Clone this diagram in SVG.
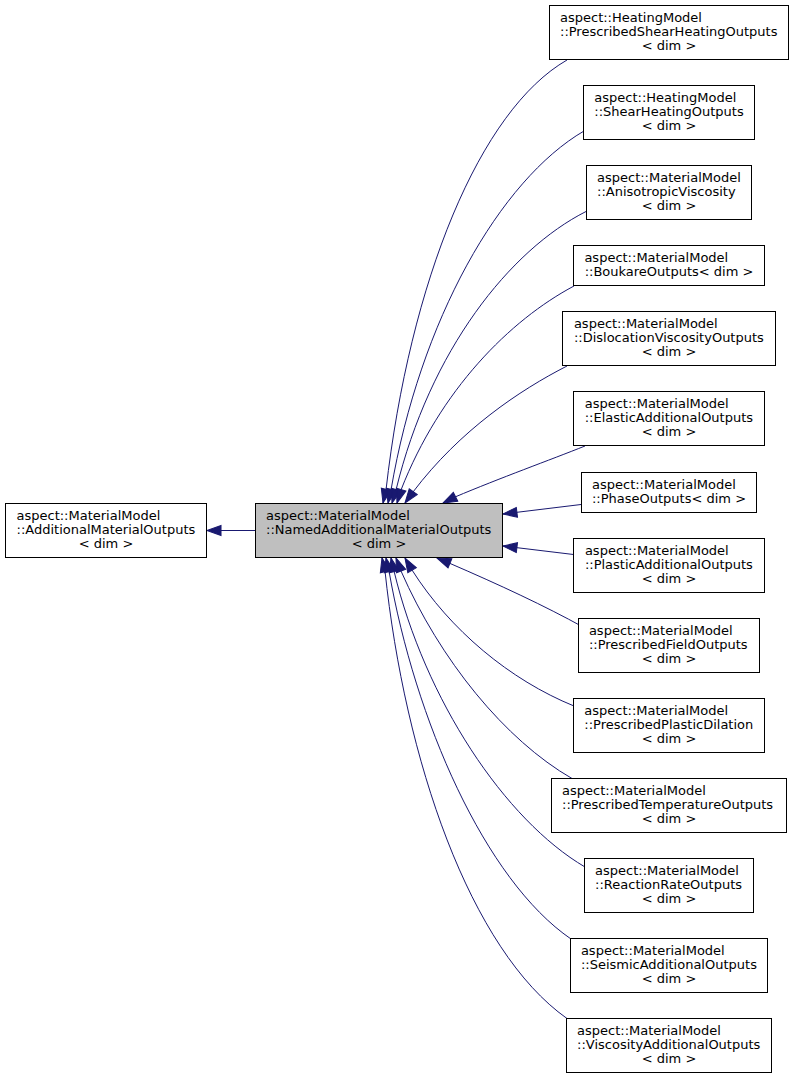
<svg xmlns="http://www.w3.org/2000/svg" width="793" height="1080" viewBox="0 0 793 1080">
<style>
.node rect{fill:#ffffff;stroke:#000000;stroke-width:1}
.main rect{fill:#bfbfbf}
text{font-family:"DejaVu Sans",sans-serif;font-size:13px;fill:#000000}
.c{text-anchor:middle}
.edge{fill:none;stroke:#191970;stroke-width:1;marker-end:url(#ah)}
</style>
<defs>
<marker id="ah" markerUnits="userSpaceOnUse" markerWidth="14" markerHeight="10" viewBox="0 0 13.5 9.5" refX="13.5" refY="4.75" orient="auto" overflow="visible">
<path d="M0,0 L13.5,4.75 L0,9.5 Z" fill="#191970" stroke="#191970" stroke-width="1"/>
</marker>
</defs>
<g id="connectors">
<path class="edge" d="M255,530.5 L207,530.5"/>
<path class="edge" d="M567,60 C480,110 410,280 386,490 L383,503"/>
<path class="edge" d="M584,131 C500,180 420,320 391,490 L388,503"/>
<path class="edge" d="M586,211.5 C510,250 430,350 396,490 L392,503"/>
<path class="edge" d="M574,286 C510,320 440,390 401,490 L397,503"/>
<path class="edge" d="M567,366 C520,390 460,430 413,492 L405,503"/>
<path class="edge" d="M585,446 C550,460 500,478 455,497 L443,503"/>
<path class="edge" d="M581,504.5 L503,514"/>
<path class="edge" d="M573.5,554.5 L503,546"/>
<path class="edge" d="M583,627 C545,606 500,585 449,563 L437,558"/>
<path class="edge" d="M574,706 C510,680 450,630 412,570 L405,558"/>
<path class="edge" d="M572,778.5 C505,740 440,660 401,571 L396,558"/>
<path class="edge" d="M585,867 C505,820 425,700 394,571 L391,558"/>
<path class="edge" d="M571,939 C485,880 415,720 389,571 L386,558"/>
<path class="edge" d="M567,1018.5 C470,950 405,760 385,571 L382,558"/>
</g>
<g id="node_additional" class="node">
<rect x="5.5" y="503.5" width="201" height="54"/>
<text x="16.5" y="520">aspect::MaterialModel</text>
<text x="16.5" y="534">::AdditionalMaterialOutputs</text>
<text class="c" x="106" y="548">&lt; dim &gt;</text>
</g>
<g id="node_named" class="node main">
<rect x="255.5" y="503.5" width="247" height="54"/>
<text x="266" y="520">aspect::MaterialModel</text>
<text x="266" y="534">::NamedAdditionalMaterialOutputs</text>
<text class="c" x="379" y="548">&lt; dim &gt;</text>
</g>
<g id="node_prescribed_shear_heating" class="node">
<rect x="549.5" y="5.5" width="239" height="54"/>
<text x="560" y="22">aspect::HeatingModel</text>
<text x="560" y="36">::PrescribedShearHeatingOutputs</text>
<text class="c" x="669" y="50">&lt; dim &gt;</text>
</g>
<g id="node_shear_heating" class="node">
<rect x="583.5" y="85.5" width="171" height="54"/>
<text x="594.3" y="102">aspect::HeatingModel</text>
<text x="594.3" y="116">::ShearHeatingOutputs</text>
<text class="c" x="669" y="130">&lt; dim &gt;</text>
</g>
<g id="node_anisotropic" class="node">
<rect x="586.5" y="165.5" width="165" height="54"/>
<text x="597" y="182">aspect::MaterialModel</text>
<text x="597" y="196">::AnisotropicViscosity</text>
<text class="c" x="669" y="210">&lt; dim &gt;</text>
</g>
<g id="node_boukare" class="node">
<rect x="573.5" y="245.5" width="191" height="40"/>
<text x="584.4" y="262">aspect::MaterialModel</text>
<text class="c" x="669" y="276">::BoukareOutputs&lt; dim &gt;</text>
</g>
<g id="node_dislocation" class="node">
<rect x="562.5" y="311.5" width="213" height="54"/>
<text x="573.9" y="328">aspect::MaterialModel</text>
<text x="573.9" y="342">::DislocationViscosityOutputs</text>
<text class="c" x="669" y="356">&lt; dim &gt;</text>
</g>
<g id="node_elastic" class="node">
<rect x="573.5" y="391.5" width="191" height="54"/>
<text x="584.7" y="408">aspect::MaterialModel</text>
<text x="584.7" y="422">::ElasticAdditionalOutputs</text>
<text class="c" x="669" y="436">&lt; dim &gt;</text>
</g>
<g id="node_phase" class="node">
<rect x="581.5" y="472.5" width="175" height="40"/>
<text x="592" y="489">aspect::MaterialModel</text>
<text class="c" x="669" y="503">::PhaseOutputs&lt; dim &gt;</text>
</g>
<g id="node_plastic" class="node">
<rect x="573.5" y="538.5" width="191" height="54"/>
<text x="584.9" y="555">aspect::MaterialModel</text>
<text x="584.9" y="569">::PlasticAdditionalOutputs</text>
<text class="c" x="669" y="583">&lt; dim &gt;</text>
</g>
<g id="node_prescribed_field" class="node">
<rect x="578.5" y="618.5" width="181" height="54"/>
<text x="588.9" y="635">aspect::MaterialModel</text>
<text x="588.9" y="649">::PrescribedFieldOutputs</text>
<text class="c" x="669" y="663">&lt; dim &gt;</text>
</g>
<g id="node_prescribed_plastic_dilation" class="node">
<rect x="573.5" y="698.5" width="191" height="54"/>
<text x="584.3" y="715">aspect::MaterialModel</text>
<text x="584.3" y="729">::PrescribedPlasticDilation</text>
<text class="c" x="669" y="743">&lt; dim &gt;</text>
</g>
<g id="node_prescribed_temperature" class="node">
<rect x="551.5" y="778.5" width="235" height="54"/>
<text x="562" y="795">aspect::MaterialModel</text>
<text x="562" y="809">::PrescribedTemperatureOutputs</text>
<text class="c" x="669" y="823">&lt; dim &gt;</text>
</g>
<g id="node_reaction_rate" class="node">
<rect x="584.5" y="858.5" width="169" height="54"/>
<text x="595.1" y="875">aspect::MaterialModel</text>
<text x="595.1" y="889">::ReactionRateOutputs</text>
<text class="c" x="669" y="903">&lt; dim &gt;</text>
</g>
<g id="node_seismic" class="node">
<rect x="570.5" y="938.5" width="197" height="54"/>
<text x="580.9" y="955">aspect::MaterialModel</text>
<text x="580.9" y="969">::SeismicAdditionalOutputs</text>
<text class="c" x="669" y="983">&lt; dim &gt;</text>
</g>
<g id="node_viscosity" class="node">
<rect x="566.5" y="1018.5" width="205" height="54"/>
<text x="577.1" y="1035">aspect::MaterialModel</text>
<text x="577.1" y="1049">::ViscosityAdditionalOutputs</text>
<text class="c" x="669" y="1063">&lt; dim &gt;</text>
</g>
</svg>
